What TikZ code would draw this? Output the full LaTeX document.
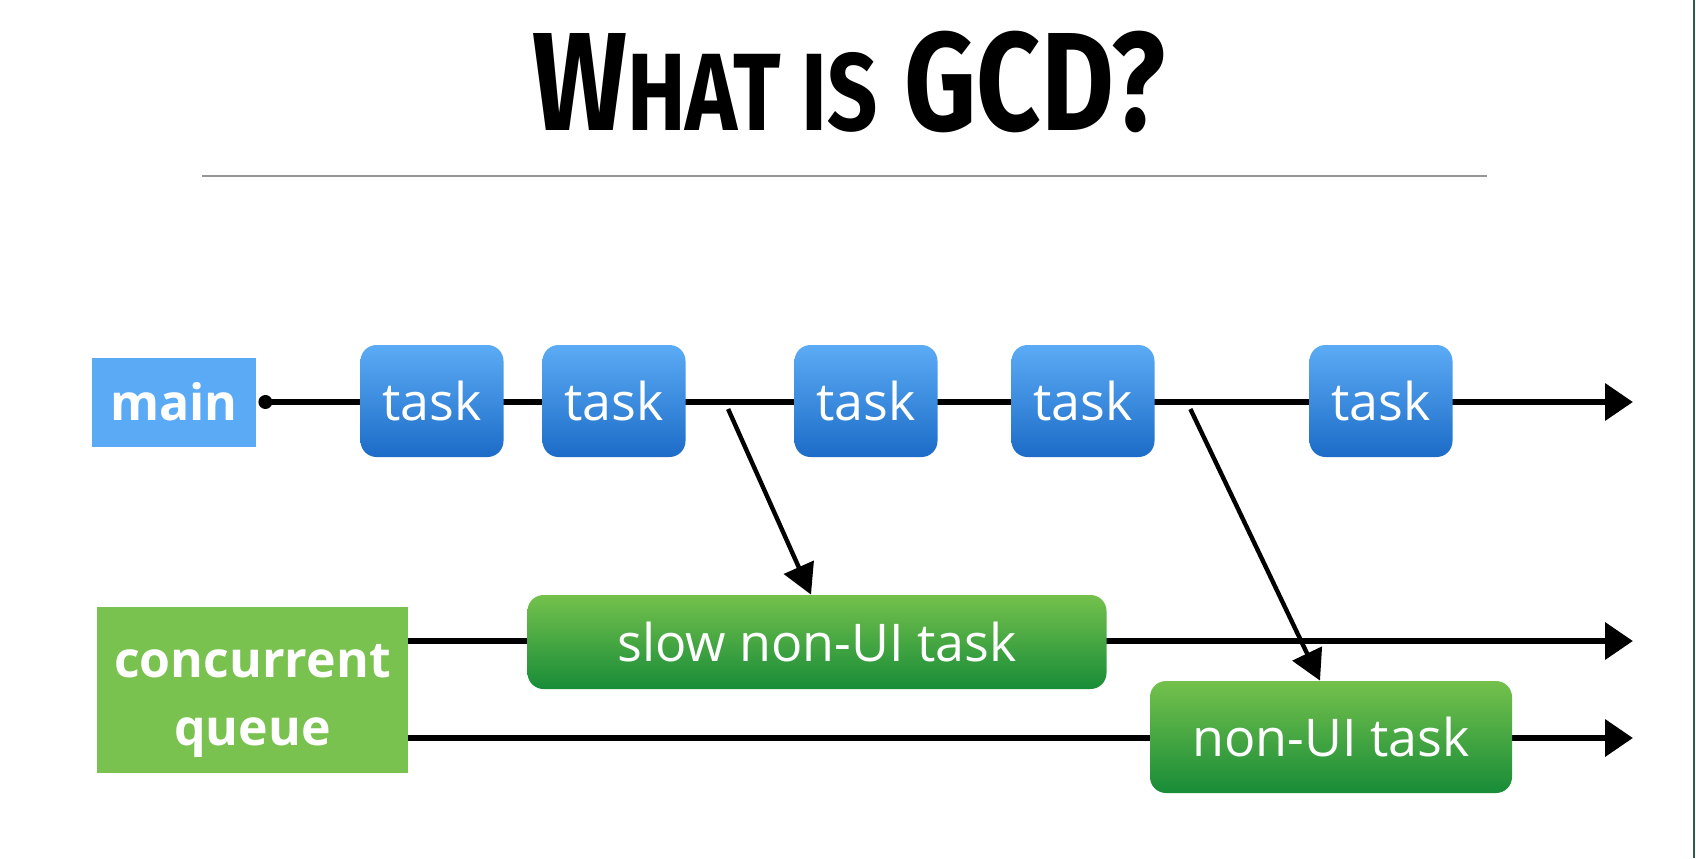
\documentclass[tikz,border=0pt]{standalone}
\usepackage{fontspec}
\setmainfont{Open Sans}
\newfontfamily\titlefont[FakeStretch=0.8]{Fira Sans}
\usetikzlibrary{arrows.meta,positioning,calc,backgrounds}
\definecolor{skyA}{RGB}{92,171,245}
\definecolor{skyB}{RGB}{28,108,200}
\definecolor{mainblue}{RGB}{90,170,245}
\definecolor{qgreen}{RGB}{121,194,79}
\definecolor{grassA}{RGB}{116,193,76}
\definecolor{grassB}{RGB}{24,140,56}
\definecolor{rule}{RGB}{150,150,150}
\definecolor{edge}{RGB}{50,90,75}
\tikzset{
  >={Triangle[length=14pt,width=18pt]},
  lanebox/.style={fill=#1,text=white,font=\fontsize{25}{34}\selectfont\bfseries,
    align=center,inner sep=0pt},
  taskbox/.style={top color=skyA,bottom color=skyB,text=white,rounded corners=8pt,
    minimum width=71.5pt,minimum height=56pt,inner sep=0pt,
    font=\fontsize{26}{30}\selectfont},
  workbox/.style={top color=grassA,bottom color=grassB,text=white,rounded corners=8pt,
    minimum height=#1,inner sep=0pt,font=\fontsize{26}{30}\selectfont},
  workbox/.default=47pt,
  lane/.style={line width=3.4pt,line cap=round},
  hop/.style={->,line width=2.2pt,>={Triangle[length=15pt,width=16pt]}},
}

\begin{document}
\begin{tikzpicture}[x=0.5pt,y=-0.5pt]
  \useasboundingbox (0,0) rectangle (1696,858);
  \draw[edge,line width=1pt] (1694,0) -- (1694,858);

  % title
  \node[font=\titlefont\bfseries\fontsize{70}{80}\selectfont] (title) at (849,82)
    {W{\fontsize{55}{60}\selectfont HAT IS} GCD?};
  \draw[rule,line width=0.6pt] (202,176) -- (1487,176);

  % queues
  \node[lanebox=mainblue,minimum width=82pt,minimum height=44.5pt] (main) at (174,402) {main};
  \node[lanebox=qgreen,minimum width=155.5pt,minimum height=83pt] (cq) at (252.5,690) {};
  \node[lanebox=qgreen] (cqtext) at ([yshift=-5.5pt]cq.center) {concurrent\\queue};

  \foreach \x [count=\i] in {432,614,866,1083,1381}
    \node[taskbox] (t\i) at (\x,401) {task};

  \node[workbox,minimum width=289.5pt] (slow) at (817,642) {slow non-UI task};
  \node[workbox=56pt,minimum width=181pt] (nonui) at (1331,737) {non-UI task};

  \coordinate (mainstart) at ([xshift=4.5pt]main.east);
  \coordinate (mainend) at (1633,402);
  \coordinate (slowend) at (1633,641);
  \coordinate (nonuiend) at (1633,738);

  \begin{scope}[on background layer]
    \draw[lane,->] (mainstart) -- (mainend);
    \fill (mainstart) circle (7);
    \draw[lane,->] (cq.east |- slowend) -- (slowend);
    \draw[lane,->] (cq.east |- nonuiend) -- (nonuiend);
  \end{scope}

  \coordinate (fork1) at ($(t2.east)!0.39!(t3.west)+(0,8)$);
  \coordinate (fork2) at ($(t4.east)!0.23!(t5.west)+(0,8)$);
  \draw[hop] (fork1) -- ([xshift=-3pt]slow.north);
  \draw[hop] (fork2) -- ([xshift=-5.5pt]nonui.north);
\end{tikzpicture}
\end{document}
